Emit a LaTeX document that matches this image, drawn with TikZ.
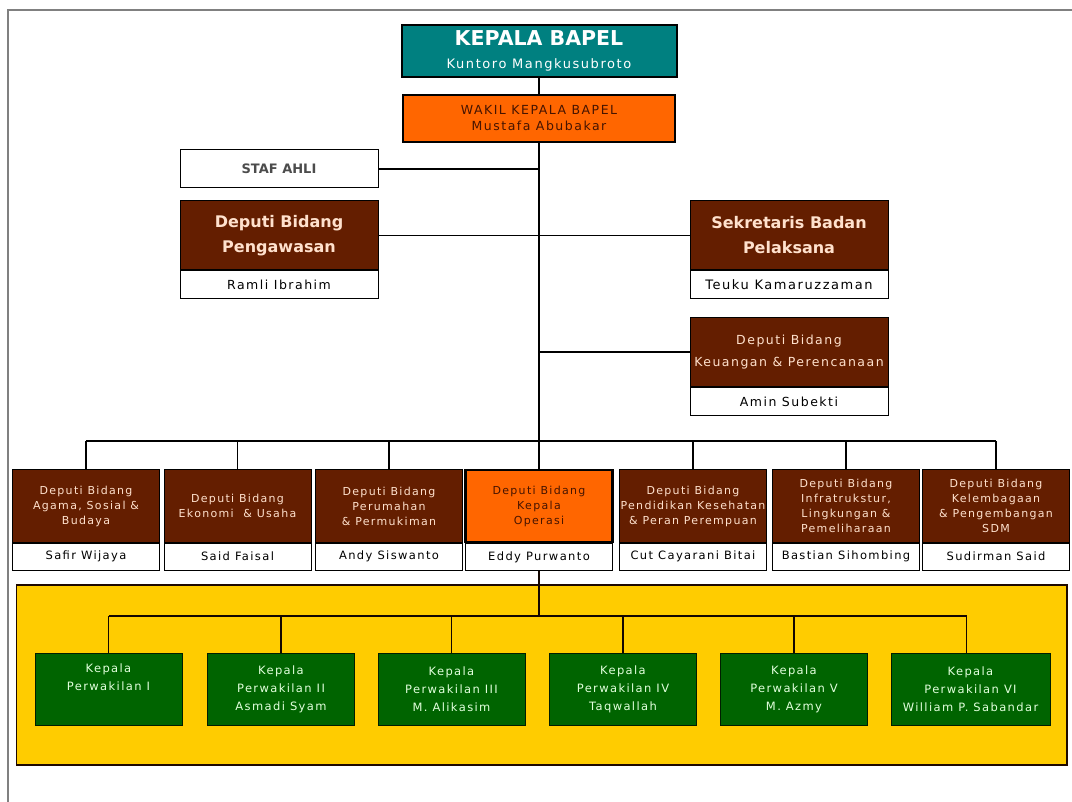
\documentclass[tikz,border=0pt]{standalone}
\usepackage{fontspec}
\setmainfont{DejaVu Sans}[LetterSpace=12, BoldFeatures={LetterSpace=0}]
\usetikzlibrary{positioning}
\definecolor{bapelteal}{RGB}{0,128,128}
\definecolor{bapelorange}{RGB}{255,102,0}
\definecolor{bapelbrown}{RGB}{100,30,0}
\definecolor{bapelgreen}{RGB}{0,100,0}
\definecolor{bapelyellow}{RGB}{255,204,0}
\definecolor{browntext}{RGB}{255,225,205}
\definecolor{greentext}{RGB}{225,255,220}
\definecolor{darktext}{RGB}{70,20,0}
\newcommand{\fs}[2]{\fontsize{#1}{#2}\selectfont}

\begin{document}
\begin{tikzpicture}[x=1pt,y=-1pt]
                        \tikzstyle{every node}=[align=center, inner sep=0pt, line width=1pt]
                        \tikzstyle{orgline}=[line width=1.1pt]
                        \tikzstyle{pageframe}=[draw=gray, line width=2pt]
                        \tikzstyle{headbox}=[draw=black, line width=2pt, fill=bapelteal, text=white, minimum width=275pt, minimum height=52pt, font=\fs{13}{22}]
                        \tikzstyle{wakilbox}=[draw=black, line width=2pt, fill=bapelorange, text=darktext, minimum width=272pt, minimum height=47pt, font=\fs{12.5}{16}]
                        \tikzstyle{bigbrown}=[draw=black, fill=bapelbrown, text=browntext, minimum width=198pt, minimum height=69pt, font=\bfseries\fs{16}{25}]
                        \tikzstyle{bigname}=[draw=black, fill=white, minimum width=198pt, minimum height=28pt, font=\fs{12.5}{14}]
                        \tikzstyle{deputi}=[draw=black, fill=bapelbrown, text=browntext, minimum width=147pt, minimum height=72pt, font=\fs{11}{15}]
                        \tikzstyle{opsbox}=[deputi, fill=bapelorange, text=darktext, line width=2.2pt]
                        \tikzstyle{namebox}=[draw=black, fill=white, minimum width=147pt, minimum height=27pt, font=\fs{11.5}{13}]
                        \tikzstyle{wakilan}=[draw=black!70!bapelgreen, fill=bapelgreen, text=greentext, minimum width=147pt, minimum height=72pt, font=\fs{11.5}{18}]
                        \useasboundingbox (0,0) rectangle (1072,802);
                        \draw[pageframe] (8,802) -- (8,10) -- (1072,10);
                        \node[headbox] (kepala) at (539,51) {{\bfseries\fs{20.5}{23}KEPALA BAPEL}\\[1pt]Kuntoro Mangkusubroto};
                        \node[wakilbox] (wakil) at (539,118.5) {WAKIL KEPALA BAPEL\\Mustafa Abubakar};
                        \node[bigname, minimum height=38pt, font=\bfseries\fs{13}{15}, text=black!70] (staf) at (279,169) {STAF AHLI};
                        \node[bigbrown] (pengawasan) at (279,235.5) {Deputi Bidang\\Pengawasan};
                        \node[bigname, anchor=north] (ramli) at (pengawasan.south) {Ramli Ibrahim};
                        \node[bigbrown] (sekretaris) at (789,235.5) {Sekretaris Badan\\Pelaksana};
                        \node[bigname, anchor=north, font=\fs{13}{14}] (teuku) at (sekretaris.south) {Teuku Kamaruzzaman};
                        \node[bigbrown, font=\fs{12.5}{22}] (keuangan) at (789,352) {Deputi Bidang\\Keuangan \& Perencanaan};
                        \node[bigname, anchor=north] (amin) at (keuangan.south) {Amin Subekti};
                        \coordinate (bus) at (539,441);
                        \node[deputi] (agama) at (86,506) {Deputi Bidang\\Agama, Sosial \&\\Budaya};
                        \node[namebox, anchor=north] (safir) at (agama.south) {Safir Wijaya};
                        \node[deputi] (ekonomi) at (237.5,506) {Deputi Bidang\\Ekonomi\ \ \& Usaha};
                        \node[namebox, anchor=north] (said) at (ekonomi.south) {Said Faisal};
                        \node[deputi] (perumahan) at (389,506) {Deputi Bidang\\Perumahan\\\& Permukiman};
                        \node[namebox, anchor=north] (andy) at (perumahan.south) {Andy Siswanto};
                        \node[opsbox] (operasi) at (539,506) {Deputi Bidang\\Kepala\\Operasi};
                        \node[namebox, anchor=north] (eddy) at (operasi.south) {Eddy Purwanto};
                        \node[deputi] (pendidikan) at (693,506) {Deputi Bidang\\Pendidikan Kesehatan\\\& Peran Perempuan};
                        \node[namebox, anchor=north] (cut) at (pendidikan.south) {Cut Cayarani Bitai};
                        \node[deputi] (infra) at (846,506) {Deputi Bidang\\Infratrukstur,\\Lingkungan \&\\Pemeliharaan};
                        \node[namebox, anchor=north] (bastian) at (infra.south) {Bastian Sihombing};
                        \node[deputi] (lembaga) at (996,506) {Deputi Bidang\\Kelembagaan\\\& Pengembangan\\SDM};
                        \node[namebox, anchor=north] (sudirman) at (lembaga.south) {Sudirman Said};
                        \draw[draw=black!70!bapelbrown, line width=1.5pt, fill=bapelyellow] (16.5,585) rectangle (1067,765);
                        \coordinate (panelbus) at (539,616);
                        \node[wakilan] (pw1) at (108.5,689) {Kepala\\Perwakilan I\\\strut};
                        \node[wakilan] (pw2) at (281,689) {Kepala\\Perwakilan II\\Asmadi Syam};
                        \node[wakilan] (pw3) at (451.5,689) {Kepala\\Perwakilan III\\M. Alikasim};
                        \node[wakilan] (pw4) at (623,689) {Kepala\\Perwakilan IV\\Taqwallah};
                        \node[wakilan] (pw5) at (794,689) {Kepala\\Perwakilan V\\M. Azmy};
                        \node[wakilan, minimum width=159pt] (pw6) at (970.5,689) {Kepala\\Perwakilan VI\\William P. Sabandar};
                        \draw[orgline] (kepala) -- (wakil);
                        \draw[orgline] (wakil.south) -- (bus);
                        \draw[orgline] (staf.east) -- (staf.east -| wakil.south);
                        \draw[orgline] (pengawasan.east) -- (sekretaris.west);
                        \draw[orgline] (keuangan.west) -- (keuangan.west -| wakil.south);
                        \draw[orgline] (agama.north |- bus) -- (lembaga.north |- bus);
                        \draw[orgline] (bus) -- (operasi.north);
                        \draw[orgline] (agama.north) -- (agama.north |- bus);
                        \draw[orgline] (ekonomi.north) -- (ekonomi.north |- bus);
                        \draw[orgline] (perumahan.north) -- (perumahan.north |- bus);
                        \draw[orgline] (pendidikan.north) -- (pendidikan.north |- bus);
                        \draw[orgline] (infra.north) -- (infra.north |- bus);
                        \draw[orgline] (lembaga.north) -- (lembaga.north |- bus);
                        \draw[orgline, black!80!bapelbrown] (eddy.south) -- (panelbus);
                        \draw[orgline, black!80!bapelbrown] (pw1.north |- panelbus) -- (pw1.north) (pw1.north |- panelbus) -- ([xshift=-4pt]pw6.north |- panelbus) -- ([xshift=-4pt]pw6.north);
                        \draw[orgline, black!80!bapelbrown] (pw2.north) -- (pw2.north |- panelbus);
                        \draw[orgline, black!80!bapelbrown] (pw3.north) -- (pw3.north |- panelbus);
                        \draw[orgline, black!80!bapelbrown] (pw4.north) -- (pw4.north |- panelbus);
                        \draw[orgline, black!80!bapelbrown] (pw5.north) -- (pw5.north |- panelbus);
                    \end{tikzpicture}
\end{document}
